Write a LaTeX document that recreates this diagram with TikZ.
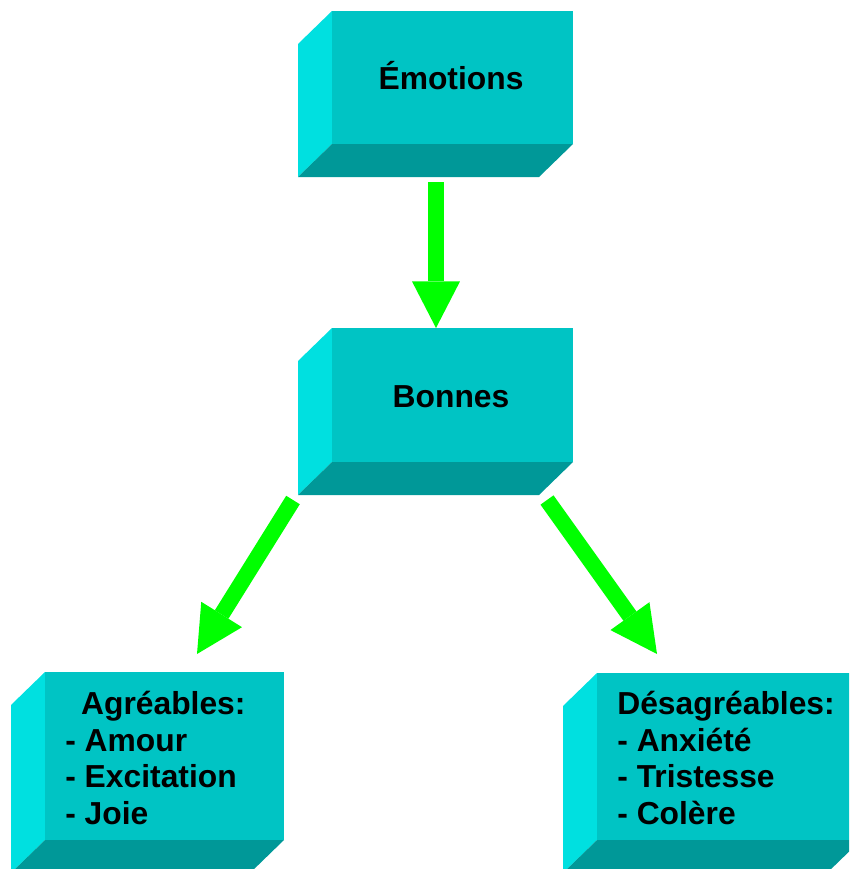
\documentclass[tikz,border=0pt]{standalone}
\usepackage{fontspec}
\setmainfont{Liberation Sans}
\usetikzlibrary{arrows.meta}
\definecolor{facecol}{RGB}{0,196,196}
\definecolor{sidecol}{RGB}{0,224,224}
\definecolor{bottomcol}{RGB}{0,152,152}
\definecolor{arrowgreen}{RGB}{0,255,0}
\begin{document}
\begin{tikzpicture}[x=0.02cm,y=-0.02cm,line join=miter,
	boxtext/.style={font=\fontsize{18.1}{20.9}\selectfont\bfseries,inner sep=0pt,align=left},
	flow/.style={draw=arrowgreen,line width=9.1pt,-{Triangle[length=26.5pt,width=27.3pt,line width=0pt]}}]
	\clip (0,0) rectangle (849,869);
	\newcommand{\drawbox}[4]{
	\begin{scope}[shift={(#1,#2)}]
		% mặt bên trái và mặt dưới
		\fill[sidecol] (0,0) -- (-34,33) -- (-34,#4+33) -- (0,#4) -- cycle;
		\fill[bottomcol] (0,#4) -- (-34,#4+33) -- (#3-34,#4+33) -- (#3,#4) -- cycle;
		% mặt trước
		\fill[facecol] (0,0) rectangle (#3,#4);
	\end{scope}
	}
	% Hộp trên
	\drawbox{332}{11}{241}{133}
	\node[boxtext,anchor=base] (emotions) at (451,89) {Émotions};
	% Hộp giữa
	\drawbox{332}{328}{241}{134}
	\node[boxtext,anchor=base] (bonnes) at (451,407) {Bonnes};
	% Hai hộp dưới
	\drawbox{45}{672}{239}{168}
	\node[boxtext,anchor=west] (agreables) at (65,758) {\hspace*{9pt}Agréables:\\- Amour\\- Excitation\\- Joie};
	\drawbox{597}{673}{264}{167}
	\node[boxtext,anchor=west] (desagreables) at (617,758) {Désagréables:\\- Anxiété\\- Tristesse\\- Colère};
	% Mũi tên
	\coordinate (e1) at (436,182);
	\coordinate (b1) at (436,328);
	\coordinate (b2) at (293,500);
	\coordinate (a1) at (197,654);
	\coordinate (b3) at (547,500);
	\coordinate (d1) at (657,654);
	\draw[flow] (e1) -- (b1);
	\draw[flow] (b2) -- (a1);
	\draw[flow] (b3) -- (d1);
\end{tikzpicture}
\end{document}
